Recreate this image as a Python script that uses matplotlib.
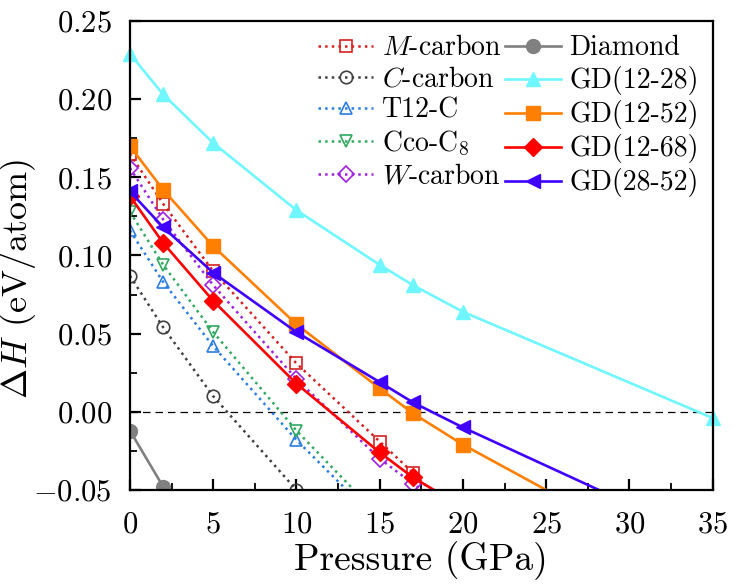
import matplotlib
matplotlib.use('Agg')
import matplotlib.pyplot as plt
from matplotlib.ticker import MultipleLocator

plt.rcParams['font.family'] = 'serif'
plt.rcParams['font.serif'] = ['cmr10']
plt.rcParams['mathtext.fontset'] = 'cm'
plt.rcParams['axes.formatter.use_mathtext'] = True

# Estruturas com linha pontilhada (marcador vazio)
p_m = [0, 2, 5, 10, 15, 17, 18.5]
h_m = [0.165, 0.133, 0.090, 0.031, -0.019, -0.039, -0.055]
p_c = [0, 2, 5, 10]
h_c = [0.087, 0.054, 0.010, -0.050]
p_t12 = [0, 2, 5, 10, 15]
h_t12 = [0.116, 0.083, 0.042, -0.018, -0.071]
p_cco = [0, 2, 5, 10, 15]
h_cco = [0.128, 0.094, 0.051, -0.012, -0.067]
p_w = [0, 2, 5, 10, 15, 17, 18.5]
h_w = [0.156, 0.123, 0.081, 0.021, -0.030, -0.046, -0.058]

# Estruturas com linha cheia (marcador cheio)
p_dia = [0, 2, 5]
h_dia = [-0.012, -0.048, -0.100]
p_gd1228 = [0, 2, 5, 10, 15, 17, 20, 35]
h_gd1228 = [0.229, 0.203, 0.172, 0.129, 0.094, 0.081, 0.064, -0.004]
p_gd1252 = [0, 2, 5, 10, 15, 17, 20, 30]
h_gd1252 = [0.170, 0.142, 0.106, 0.056, 0.015, -0.001, -0.021, -0.079]
p_gd1268 = [0, 2, 5, 10, 15, 17, 20]
h_gd1268 = [0.138, 0.108, 0.071, 0.018, -0.026, -0.042, -0.061]
p_gd2852 = [0, 2, 5, 10, 15, 17, 20, 30]
h_gd2852 = [0.141, 0.118, 0.089, 0.051, 0.019, 0.006, -0.010, -0.059]

fig = plt.figure(figsize=(7.34, 5.84), dpi=100)
ax = fig.add_axes([0.177, 0.161, 0.794, 0.803])

ax.axhline(0, color='k', linestyle=(0, (6, 4)), linewidth=0.9)

pont = dict(linestyle=':', linewidth=1.8, markersize=9, markerfacecolor='none', markeredgewidth=1.2)
ax.plot(p_m, h_m, color='#d42020', marker='s', label='$M$-carbon', **pont)
ax.plot(p_c, h_c, color='#404040', marker='o', label='$C$-carbon', **pont)
ax.plot(p_t12, h_t12, color='#2a7de1', marker='^', label='T12-C', **pont)
ax.plot(p_cco, h_cco, color='#30a860', marker='v', label='Cco-C$_8$', **pont)
ax.plot(p_w, h_w, color='#a020e0', marker='D', label='$W$-carbon',
        linestyle=':', linewidth=1.8, markersize=8, markerfacecolor='none', markeredgewidth=1.2)

cheia = dict(linestyle='-', linewidth=1.9, markersize=10)
ax.plot(p_dia, h_dia, color='#808080', marker='o', label='Diamond', **cheia)
ax.plot(p_gd1228, h_gd1228, color='#6ff6ff', marker='^', label='GD(12-28)', clip_on=False, **cheia)
ax.plot(p_gd1252, h_gd1252, color='#ff8000', marker='s', label='GD(12-52)', **cheia)
ax.plot(p_gd1268, h_gd1268, color='#ff0000', marker='D', label='GD(12-68)',
        linestyle='-', linewidth=1.9, markersize=9)
ax.plot(p_gd2852, h_gd2852, color='#4000ff', marker='<', label='GD(28-52)', **cheia)

ax.set_xlim(0, 35)
ax.set_ylim(-0.05, 0.25)
ax.xaxis.set_major_locator(MultipleLocator(5))
ax.xaxis.set_minor_locator(MultipleLocator(2.5))
ax.yaxis.set_major_locator(MultipleLocator(0.05))
ax.yaxis.set_minor_locator(MultipleLocator(0.025))
ax.yaxis.set_major_formatter(plt.FuncFormatter(lambda v, p: '$%.2f$' % v if abs(v) > 1e-9 else '$0.00$'))
ax.xaxis.set_major_formatter(plt.FuncFormatter(lambda v, p: '$%d$' % v))
ax.tick_params(which='major', direction='in', length=8, width=1.6, labelsize=22)
ax.tick_params(axis='y', which='major', pad=13)
ax.tick_params(axis='x', which='major', pad=15)
ax.tick_params(which='minor', direction='in', length=5, width=1.3)
for s in ax.spines.values():
    s.set_linewidth(1.6)

ax.set_xlabel('Pressure (GPa)', fontsize=27, labelpad=2)
ax.set_ylabel(r'$\Delta H$ (eV/atom)', fontsize=26)
ax.yaxis.set_label_coords(-0.157, 0.45)

ax.legend(ncol=2, loc='upper right', frameon=False, fontsize=20,
          handlelength=2.0, columnspacing=0.15, handletextpad=0.3,
          labelspacing=0.18, borderaxespad=0.3, borderpad=0.2)

plt.savefig('out.png', dpi=100)
